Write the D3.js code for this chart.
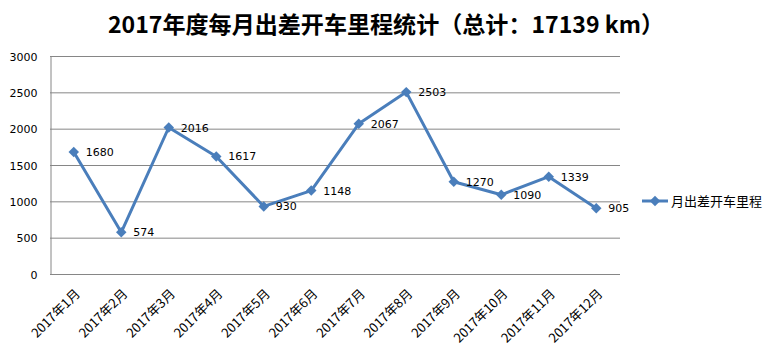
<!DOCTYPE html>
<html>
<head>
<meta charset="utf-8">
<script src="https://cdn.jsdelivr.net/npm/d3@7"></script>
<style>
  body { margin: 0; background: #fff; }
  text { font-family: "Noto Sans CJK SC", "Noto Sans", sans-serif; }
</style>
</head>
<body>
<div id="chart"></div>
<script>
// ---- data ----
const months = ["2017年1月", "2017年2月", "2017年3月", "2017年4月", "2017年5月", "2017年6月",
  "2017年7月", "2017年8月", "2017年9月", "2017年10月", "2017年11月", "2017年12月"];
const mileage = [1680, 574, 2016, 1617, 930, 1148, 2067, 2503, 1270, 1090, 1339, 905];
const yTicks = [0, 500, 1000, 1500, 2000, 2500, 3000];
const seriesName = "月出差开车里程";
const title = "2017年度每月出差开车里程统计（总计：17139 km）";

const width = 772, height = 350;
const margin = { top: 56, right: 152, bottom: 76, left: 50 };
const blue = "#4a7ebb";
const grid = "#868686";

const svg = d3.select("#chart").append("svg")
  .attr("width", width)
  .attr("height", height);

const x = d3.scaleBand()
  .domain(months)
  .range([margin.left, width - margin.right]);

const y = d3.scaleLinear()
  .domain([0, 3000])
  .range([height - margin.bottom, margin.top]);

// title
svg.append("text")
  .attr("x", 386)
  .attr("y", 33)
  .attr("text-anchor", "middle")
  .attr("font-size", "23px")
  .attr("font-weight", "bold")
  .attr("fill", "#000")
  .attr("textLength", 556)
  .attr("lengthAdjust", "spacingAndGlyphs")
  .text(title);

// gridlines
svg.append("g")
  .selectAll("line")
  .data(yTicks)
  .join("line")
  .attr("x1", margin.left)
  .attr("x2", width - margin.right)
  .attr("y1", d => y(d) + 0.5)
  .attr("y2", d => y(d) + 0.5)
  .attr("stroke", grid)
  .attr("stroke-width", 1);

// y axis
const yAxis = svg.append("g")
  .attr("transform", `translate(${margin.left + 0.5},0.5)`)
  .call(d3.axisLeft(y).tickValues(yTicks).tickFormat(d3.format("d")).tickSize(0).tickPadding(13));
yAxis.select(".domain").attr("stroke", grid);
yAxis.selectAll("text").attr("font-size", "11px").attr("fill", "#000")
  .style("font-family", "'DejaVu Sans', sans-serif");

// x axis labels
const xAxis = svg.append("g")
  .attr("transform", `translate(0,${height - margin.bottom + 0.5})`)
  .call(d3.axisBottom(x).tickSize(0).tickSizeOuter(0));
xAxis.select(".domain").remove();
xAxis.selectAll("text")
  .attr("font-size", "13px")
  .attr("fill", "#000")
  .attr("text-anchor", "end")
  .attr("dy", 0)
  .attr("transform", "translate(5,18) rotate(-45)");

// line
const line = d3.line()
  .x((d, i) => x(months[i]) + x.bandwidth() / 2)
  .y(d => y(d));

svg.append("path")
  .datum(mileage)
  .attr("fill", "none")
  .attr("stroke", blue)
  .attr("stroke-width", 3)
  .attr("stroke-linejoin", "round")
  .attr("d", line);

const diamond = d3.symbol().type(d3.symbolDiamond2).size(70);

svg.append("g")
  .selectAll("path")
  .data(mileage)
  .join("path")
  .attr("transform", (d, i) => `translate(${x(months[i]) + x.bandwidth() / 2},${y(d)})`)
  .attr("d", diamond)
  .attr("fill", blue);

// data labels
svg.append("g")
  .selectAll("text")
  .data(mileage)
  .join("text")
  .attr("x", (d, i) => x(months[i]) + x.bandwidth() / 2 + 12)
  .attr("y", d => y(d) + 4)
  .attr("font-size", "11px")
  .attr("fill", "#000")
  .style("font-family", "'DejaVu Sans', sans-serif")
  .text(d => d);

// legend
const legend = svg.append("g").attr("transform", "translate(642,201)");
legend.append("line")
  .attr("x1", 0).attr("x2", 26)
  .attr("stroke", blue)
  .attr("stroke-width", 3);
legend.append("path")
  .attr("transform", "translate(13,0)")
  .attr("d", diamond)
  .attr("fill", blue);
legend.append("text")
  .attr("x", 29)
  .attr("y", 5)
  .attr("font-size", "13px")
  .attr("fill", "#000")
  .text(seriesName);
</script>
</body>
</html>
